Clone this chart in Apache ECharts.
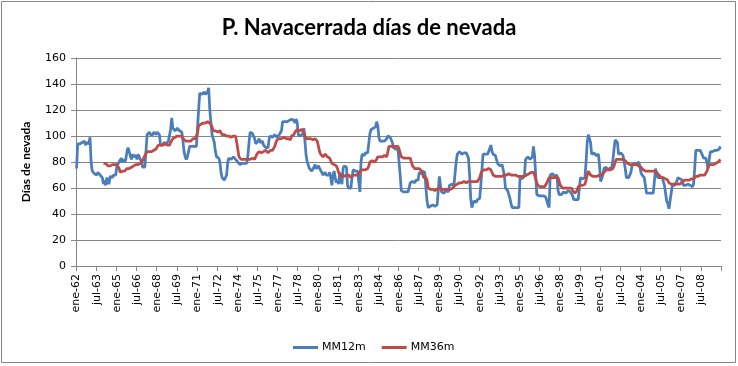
<!DOCTYPE html>
<html>
<head>
<meta charset="utf-8">
<script src="https://cdn.jsdelivr.net/npm/echarts@6/dist/echarts.min.js"></script>
<style>
html,body{margin:0;padding:0;background:#fff;}
#c{width:738px;height:366px;}
</style>
</head>
<body>
<div id="c"></div>
<script>
// ---- data ----
var monthNames = ['ene','feb','mar','abr','may','jun','jul','ago','sep','oct','nov','dic'];
var firstYear = 1962;
var lastYear = 2009;
var yTicks = [0, 20, 40, 60, 80, 100, 120, 140, 160];
var seriesNames = ['MM12m', 'MM36m'];

var mm12 = [
 75,94,95,94,93,95,94,96,93,95,96,94,      // 1962
 99,80,73,72,71,71,70,72,71,70,71,68,      // 1963
 63,66,62,68,65,63,69,69,68,70,69,70,      // 1964
 77,78,80,81,83,80,82,80,82,88,91,90,      // 1965
 85,82,86,84,83,85,82,86,84,82,80,76,      // 1966
 75,76,75,101,102,103,101,102,101,103,102,101, // 1967
 103,102,101,93,94,93,95,96,94,95,96,95,   // 1968
 105,114,106,105,104,105,106,105,104,105,103,96, // 1969
 88,84,82,84,88,92,93,92,93,92,93,92,      // 1970
 93,120,133,134,132,133,134,132,133,134,137,120, // 1971
 110,101,101,95,88,84,83,83,80,72,68,67,   // 1972
 66,66,70,80,83,83,82,83,84,83,82,83,      // 1973
 80,79,78,79,79,80,79,78,79,85,95,103,     // 1974
 103,102,103,98,94,95,96,98,95,94,96,93,   // 1975
 92,91,90,91,98,100,100,99,100,101,100,99, // 1976
 100,101,100,104,111,112,111,112,111,110,112,111, // 1977
 113,114,112,110,113,111,101,101,100,101,102,106, // 1978
 107,85,80,79,75,74,73,74,76,78,75,76,     // 1979
 77,75,74,72,70,71,72,70,71,70,72,68,      // 1980
 62,70,73,68,64,66,63,72,66,63,75,77,      // 1981
 77,76,62,60,61,60,68,74,74,73,74,73,      // 1982
 65,57,80,86,86,85,87,86,87,88,102,105,    // 1983
 106,106,105,107,111,108,99,96,95,96,97,96, // 1984
 95,98,100,100,99,100,95,91,91,90,91,90,   // 1985
 80,70,58,57,57,56,57,57,57,60,64,65,      // 1986
 65,66,64,66,65,66,72,72,71,73,72,72,      // 1987
 60,50,45,45,46,45,47,47,46,47,47,46,      // 1988
 69,62,57,57,56,57,58,57,57,62,62,63,      // 1989
 62,62,62,80,86,87,88,87,86,87,87,88,      // 1990
 87,86,83,70,52,45,48,50,50,49,51,50,      // 1991
 52,62,74,86,85,86,87,86,88,89,93,88,      // 1992
 86,87,85,86,79,78,77,78,78,78,70,60,      // 1993
 60,58,57,52,48,45,44,45,44,45,46,45,      // 1994
 68,68,67,68,70,82,83,84,83,82,83,84,      // 1995
 92,85,70,55,54,54,55,54,53,54,55,53,      // 1996
 50,47,45,70,70,71,70,69,70,70,58,55,      // 1997
 56,55,56,57,57,56,57,58,57,57,56,54,      // 1998
 51,51,51,52,51,60,68,68,67,68,68,80,      // 1999
 95,101,101,95,86,86,87,86,85,86,86,78,    // 2000
 65,65,70,75,75,76,74,75,75,74,76,82,      // 2001
 90,97,96,95,86,86,87,86,85,80,75,68,      // 2002
 68,68,69,72,77,78,79,80,78,79,80,77,      // 2003
 72,70,70,68,62,56,56,56,55,56,56,56,      // 2004
 65,75,75,68,68,68,68,68,67,62,56,50,      // 2005
 48,44,50,56,62,62,62,62,65,68,68,67,      // 2006
 68,66,62,62,62,62,63,62,62,62,61,63,      // 2007
 75,89,89,89,88,89,88,85,83,83,83,82,      // 2008
 75,82,88,89,88,89,89,88,89,90,90,92       // 2009
];

var mm36 = [
 null,null,null,null,null,null,null,null,null,null,null,null, // 1962
 null,null,null,null,null,null,null,null,null,null,null,null, // 1963
 79,80,79,78,77,78,77,77,78,79,78,77,      // 1964
 78,77,75,72,72,73,74,73,74,75,75,75,      // 1965
 76,76,77,77,76,78,78,78,79,79,78,81,      // 1966
 83,85,86,88,89,88,89,88,89,89,89,90,      // 1967
 90,93,92,93,93,93,92,94,93,93,94,93,      // 1968
 95,96,98,99,99,100,100,101,100,100,100,99, // 1969
 97,96,96,97,96,95,96,97,98,98,98,100,     // 1970
 102,108,109,109,109,110,110,110,110,111,111,110, // 1971
 109,107,104,104,104,104,103,104,104,103,101,101, // 1972
 101,100,100,99,100,100,99,100,100,99,100,100, // 1973
 90,84,83,82,82,82,81,82,82,82,83,82,      // 1974
 82,83,82,82,84,86,87,88,88,87,87,88,      // 1975
 88,89,89,87,88,89,88,89,90,92,95,97,      // 1976
 98,98,98,98,98,99,98,98,98,98,99,97,      // 1977
 100,101,101,103,104,105,105,104,105,105,104,103, // 1978
 100,98,97,98,97,98,98,97,97,98,97,96,     // 1979
 92,88,86,85,84,85,86,85,84,84,83,81,      // 1980
 79,78,78,78,77,75,72,70,70,69,70,69,      // 1981
 70,70,69,70,69,68,69,70,69,70,69,70,      // 1982
 71,72,74,74,74,74,74,74,75,77,80,80,      // 1983
 81,80,80,81,82,84,84,84,85,84,84,85,      // 1984
 85,84,88,92,93,92,93,92,92,92,93,92,      // 1985
 90,87,84,83,83,83,83,83,83,83,83,80,      // 1986
 77,76,75,75,75,75,75,75,73,71,68,68,      // 1987
 68,66,60,59,59,59,59,59,58,59,59,59,      // 1988
 60,59,59,59,59,58,59,59,59,60,59,60,      // 1989
 60,61,62,63,63,64,64,64,64,64,65,64,      // 1990
 64,64,65,65,65,65,65,65,65,66,65,66,      // 1991
 68,71,73,74,74,74,74,74,75,75,74,73,      // 1992
 70,69,69,69,69,69,69,69,69,70,70,70,      // 1993
 70,70,71,70,70,70,70,70,70,69,69,69,      // 1994
 69,68,69,69,69,69,70,69,71,72,72,72,      // 1995
 72,70,67,64,62,61,61,61,61,61,61,62,      // 1996
 64,66,68,68,68,68,68,68,68,68,68,65,      // 1997
 62,61,60,60,60,60,60,60,60,60,60,58,      // 1998
 57,56,55,58,61,62,62,62,62,62,63,66,      // 1999
 70,73,72,70,69,69,69,69,69,69,69,70,      // 2000
 70,70,71,72,73,74,74,74,74,74,74,75,      // 2001
 77,80,82,82,82,82,82,82,82,82,81,80,      // 2002
 79,78,78,78,78,78,78,78,78,77,77,77,      // 2003
 76,75,74,73,73,73,73,73,73,73,73,73,      // 2004
 73,73,72,71,70,69,68,68,68,68,67,67,      // 2005
 66,64,63,63,63,63,63,63,63,63,62,63,      // 2006
 64,65,66,66,66,66,66,66,67,67,67,67,      // 2007
 68,69,69,69,70,70,70,70,70,70,71,73,      // 2008
 76,78,78,78,78,78,79,79,80,80,81,82       // 2009
];

// category labels (ene-62 ... dic-09)
var categories = [];
for (var y = firstYear; y <= lastYear; y++) {
  for (var k = 0; k < 12; k++) {
    categories.push(monthNames[k] + '-' + String(y % 100).padStart(2, '0'));
  }
}

var chart = echarts.init(document.getElementById('c'), null, {renderer: 'canvas'});
var axisGray = '#868686';
var labelFont = 'DejaVu Sans';

chart.setOption({
  animation: false,
  backgroundColor: '#ffffff',
  title: {
    text: 'P. Navacerrada días de nevada',
    left: 'center',
    top: 12,
    textStyle: {fontFamily: 'Lato', fontWeight: 'bold', fontSize: 22, color: '#000'}
  },
  graphic: [{
    type: 'rect',
    shape: {x: 1.5, y: 1.5, width: 734, height: 361},
    style: {fill: null, stroke: '#868686', lineWidth: 1},
    silent: true, z: -1
  }],
  legend: {
    data: seriesNames,
    left: 288,
    top: 337,
    icon: 'rect',
    itemWidth: 25,
    itemHeight: 3,
    itemGap: 16,
    textStyle: {fontFamily: labelFont, fontSize: 11, color: '#000', padding: [0,0,0,-1]}
  },
  grid: {left: 76, right: 17, top: 58, bottom: 100, containLabel: false},
  xAxis: {
    type: 'category',
    data: categories,
    boundaryGap: true,
    axisLine: {show: true, lineStyle: {color: axisGray, width: 1}},
    axisTick: {show: true, interval: 17, length: 5, lineStyle: {color: axisGray}},
    axisLabel: {
      interval: 17, rotate: 90, margin: 8,
      fontFamily: labelFont, fontSize: 11, color: '#000'
    },
    splitLine: {show: false}
  },
  yAxis: {
    type: 'value',
    min: yTicks[0],
    max: yTicks[yTicks.length - 1],
    interval: yTicks[1] - yTicks[0],
    name: 'Días de nevada',
    nameLocation: 'middle',
    nameRotate: 90,
    nameGap: 44,
    nameTextStyle: {fontFamily: 'Lato', fontWeight: 'bold', fontSize: 12, color: '#000'},
    axisLine: {show: true, lineStyle: {color: axisGray, width: 1}},
    axisTick: {show: true, length: 5, lineStyle: {color: axisGray}},
    axisLabel: {margin: 10, fontFamily: labelFont, fontSize: 11, color: '#000'},
    splitLine: {show: true, lineStyle: {color: axisGray, width: 1}}
  },
  series: [
    {
      name: seriesNames[0], type: 'line', data: mm12,
      symbol: 'none', showSymbol: false,
      lineStyle: {color: '#4A7EBB', width: 2.75},
      itemStyle: {color: '#4A7EBB'},
      z: 2
    },
    {
      name: seriesNames[1], type: 'line', data: mm36,
      symbol: 'none', showSymbol: false,
      lineStyle: {color: '#BE4B48', width: 2.75},
      itemStyle: {color: '#BE4B48'},
      z: 3
    }
  ]
});
</script>
</body>
</html>
